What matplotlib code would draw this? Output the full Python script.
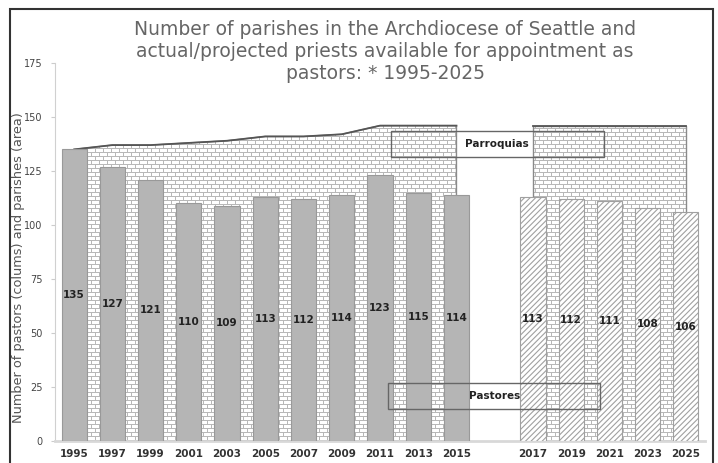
import numpy as np
import matplotlib.pyplot as plt
from matplotlib.patches import Rectangle

years = ['1995', '1997', '1999', '2001', '2003', '2005', '2007', '2009', '2011', '2013', '2015',
         '', '2017', '2019', '2021', '2023', '2025']
pastors_actual = [135, 127, 121, 110, 109, 113, 112, 114, 123, 115, 114]
pastors_projected = [113, 112, 111, 108, 106]
parishes_actual = [135, 137, 137, 138, 139, 141, 141, 142, 146, 146, 146]
parishes_projected = [146, 146, 146, 146, 146]

x_act = np.arange(len(pastors_actual))
x_proj = np.arange(len(pastors_projected)) + len(pastors_actual) + 1

fig = plt.figure(figsize=(7.18, 4.63), dpi=100)
ax = fig.add_axes([55/718, 1-441/463, 650/718, 378/463])
ax.set_xlim(-0.5, len(years) - 0.5)
ax.set_ylim(0, 175)

# brick texture for the parish area
H, W = 378, 650
yy, xx = np.mgrid[0:H, 0:W]
row = yy // 4
brick = np.ones((H, W))
brick[yy % 4 == 0] = 0.72
brick[(xx + (row % 2) * 4) % 8 == 0] = 0.72

for xs, ys in [(x_act, parishes_actual), (x_proj, parishes_projected)]:
    poly = ax.fill_between(xs, 0, ys, facecolor='none', edgecolor='#8a8a8a', lw=1.0, zorder=2)
    im = ax.imshow(brick, cmap='gray', vmin=0, vmax=1, extent=(*ax.get_xlim(), *ax.get_ylim()),
                   origin='lower', interpolation='nearest', aspect='auto', zorder=1)
    im.set_clip_path(poly.get_paths()[0], transform=ax.transData)
    ax.plot(xs, ys, color='#555555', lw=1.3, zorder=3)

ax.set_xlim(-0.5, len(years) - 0.5)
ax.set_ylim(0, 175)

w = 0.66
ax.bar(x_act, pastors_actual, width=w, color='#b5b5b5', edgecolor='#999999', lw=0.8, zorder=4)
plt.rcParams['hatch.color'] = '#9a9a9a'
plt.rcParams['hatch.linewidth'] = 0.8
ax.bar(x_proj, pastors_projected, width=w, color='white', edgecolor='#a0a0a0', hatch='//////',
       lw=0.8, zorder=4)

for xs, vals in [(x_act, pastors_actual), (x_proj, pastors_projected)]:
    for xi, v in zip(xs, vals):
        ax.text(xi, v / 2, str(v), ha='center', va='center', fontsize=7.5,
                fontweight='bold', color='#222222', zorder=6)

ax.set_xticks(np.arange(len(years)))
ax.set_xticklabels(years, fontsize=7.5, fontweight='bold', color='#333333')
ax.tick_params(axis='x', length=0, pad=6)
ax.set_yticks(np.arange(0, 176, 25))
ax.tick_params(axis='y', labelsize=7, colors='#444444', length=3, color='#cccccc', pad=6)
for s in ['top', 'right']:
    ax.spines[s].set_visible(False)
ax.spines['left'].set_color('#d0d0d0')
ax.spines['bottom'].set_color('#d8d8d8')
ax.spines['bottom'].set_linewidth(2)
ax.set_ylabel('Number of pastors (colums) and parishes (area)', fontsize=9.3,
              color='#555555')
ax.yaxis.set_label_coords(-0.046, 0.46)

# label boxes
ax.add_patch(Rectangle((0.517, 0.751), 0.328, 0.069, transform=ax.transAxes,
                       fill=False, edgecolor='#666666', lw=1.0, zorder=7, clip_on=False))
ax.text(0.68, 0.786, 'Parroquias', transform=ax.transAxes, ha='center', va='center',
        fontsize=7.5, fontweight='bold', color='#222222', zorder=7)
ax.add_patch(Rectangle((0.512, 0.085), 0.326, 0.068, transform=ax.transAxes,
                       fill=False, edgecolor='#666666', lw=1.0, zorder=7, clip_on=False))
ax.text(0.677, 0.119, 'Pastores', transform=ax.transAxes, ha='center', va='center',
        fontsize=7.5, fontweight='bold', color='#222222', zorder=7)

fig.text(385/718, 1-20/463, 'Number of parishes in the Archdiocese of Seattle and\n'
         'actual/projected priests available for appointment as\npastors: * 1995-2025',
         ha='center', va='top', fontsize=13.5, color='#666666', linespacing=1.2)

fig.patches.append(Rectangle((10/718, -0.02), 703/718, 1.0006 - 9/463 + 0.02,
                             transform=fig.transFigure, fill=False, edgecolor='#333333', lw=1.5))

fig.savefig('out.png', dpi=100)
